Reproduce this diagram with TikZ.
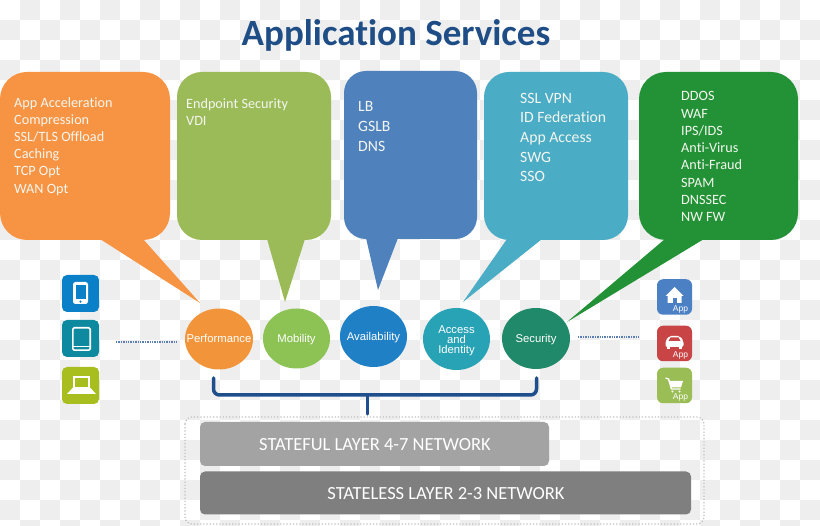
\documentclass[tikz,border=0pt]{standalone}
\usepackage{fontspec}
\setmainfont[Ligatures=NoCommon]{Carlito}
\newfontfamily\circfont{Liberation Sans}
\usetikzlibrary{shapes.geometric}
\definecolor{chk}{HTML}{EEEEEE}
\definecolor{cOrange}{HTML}{F79443}
\definecolor{cGreen}{HTML}{9BBB59}
\definecolor{cBlue}{HTML}{4F81BD}
\definecolor{cCyan}{HTML}{4BACC6}
\definecolor{cDark}{HTML}{239236}
\definecolor{cTxt}{HTML}{F4F6F0}
\definecolor{cTitle}{HTML}{1F4E86}
\definecolor{cBrace}{HTML}{1F4E8C}
\definecolor{cDot}{HTML}{5B7FB5}
\definecolor{oPerf}{HTML}{F2953A}
\definecolor{oMob}{HTML}{8DC255}
\definecolor{oAvail}{HTML}{2080C5}
\definecolor{oAcc}{HTML}{28A2B5}
\definecolor{oSec}{HTML}{20896A}
\definecolor{iBlue}{HTML}{0A80C8}
\definecolor{iTeal}{HTML}{0E8AA0}
\definecolor{iLime}{HTML}{A8BE1E}
\definecolor{aBlue}{HTML}{4C80C4}
\definecolor{aRed}{HTML}{C94545}
\definecolor{aGreen}{HTML}{9BBD55}
\definecolor{barA}{HTML}{A3A3A3}
\definecolor{barB}{HTML}{7F7F7F}
\tikzset{
  x=1pt,y=-1pt,
  bubbletext/.style={anchor=north west,inner sep=0pt,align=left,text=cTxt},
  circlenode/.style={ellipse,minimum width=68pt,minimum height=61pt,inner sep=0pt},
  circletext/.style={inner sep=0pt,text=white,font=\circfont\fontsize{11.3}{10}\selectfont,align=center},
  barnode/.style={rounded corners=5pt,inner sep=0pt},
  bartext/.style={inner sep=0pt,text=white,font=\fontsize{18.5}{20}\selectfont},
  iconbox/.style={rounded corners=5pt,inner sep=0pt,minimum width=37pt,minimum height=37pt},
  appbox/.style={rounded corners=6pt,inner sep=0pt,minimum width=35pt,minimum height=35.5pt},
  apptext/.style={inner sep=0pt,text=white,font=\circfont\fontsize{8.5}{9}\selectfont},
  dotline/.style={cDot,line width=1.1pt,dash pattern=on 1.4pt off 1pt},
}
\begin{document}
\begin{tikzpicture}
\useasboundingbox (0,0) rectangle (820,526);
\fill[white] (0,0) rectangle (820,526);
% checker background
\foreach \i in {0,...,40}{\foreach \j in {0,...,26}{
  \pgfmathparse{int(mod(\i+\j,2))}
  \ifnum\pgfmathresult=1 \fill[chk] (20*\i,20*\j) rectangle ++(20,20);\fi
}}
% title
\node[anchor=base,inner sep=0pt,text=cTitle,font=\bfseries\fontsize{37}{40}\selectfont] (title) at (396,46) {Application Services};
% bubbles
\fill[cOrange,rounded corners=27pt] (0,72) rectangle (170,240);
\fill[cOrange] (100,239) -- (200,303) -- (143,239) -- cycle;
\fill[cGreen,rounded corners=25pt] (177,72) rectangle (331,240);
\fill[cGreen] (267,239) -- (285,302) -- (305,239) -- cycle;
\fill[cBlue,rounded corners=22pt] (344,71) rectangle (477,239);
\fill[cBlue] (366,238) -- (378,290) -- (398,238) -- cycle;
\fill[cCyan,rounded corners=25pt] (484,72) rectangle (628,240);
\fill[cCyan] (507,239) -- (463,302) -- (542,239) -- cycle;
\fill[cDark,rounded corners=27pt] (639,72) rectangle (798,240);
\fill[cDark] (665,239) -- (567,322) -- (704,239) -- cycle;
% bubble text
\node[bubbletext,font=\fontsize{14.2}{17.2}\selectfont] (t1) at (14,97) {App Acceleration\\Compression\\SSL/TLS Offload\\Caching\\TCP Opt\\WAN Opt};
\node[bubbletext,font=\fontsize{14.2}{17.2}\selectfont] (t2) at (186,98) {Endpoint Security\\VDI};
\node[bubbletext,font=\fontsize{15.7}{19.8}\selectfont] (t3) at (358,101.5) {LB\\GSLB\\DNS};
\node[bubbletext,font=\fontsize{15.7}{19.6}\selectfont] (t4) at (520,93) {SSL VPN\\ID Federation\\App Access\\SWG\\SSO};
\node[bubbletext,font=\fontsize{14.2}{17.25}\selectfont] (t5) at (681,91.5) {DDOS\\WAF\\IPS/IDS\\Anti-Virus\\Anti-Fraud\\SPAM\\DNSSEC\\NW FW};
% circles
\node[circlenode,fill=oPerf] (perf) at (219,339) {};
\node[circletext] (perft) at (219,338) {Performance};
\node[circlenode,fill=oMob,minimum width=67pt,minimum height=60pt] (mob) at (296.5,338.5) {};
\node[circletext] (mobt) at (296.5,339.5) {Mobility};
\node[circlenode,fill=oAvail,minimum width=67pt] (avail) at (373.5,336.5) {};
\node[circletext] (availt) at (373.5,338) {Availability};
\node[circlenode,fill=oAcc,minimum width=67pt,minimum height=62pt] (acc) at (456.5,339) {};
\node[circletext] (acct) at (456.5,340.5) {Access\\and\\Identity};
\node[circlenode,fill=oSec] (sec) at (536,338.5) {};
\node[circletext] (sect) at (536,339.5) {Security};
% bracket
\coordinate (bl) at (213.5,378);
\coordinate (br) at (536.5,378);
\coordinate (bt) at (367.5,395);
\coordinate (bs) at (367.5,414);
\draw[cBrace,line width=3.5pt,rounded corners=6pt,line cap=round] (bl) -- (bl|-bt) -- (br|-bt) -- (br);
\draw[cBrace,line width=3.5pt,line cap=round] (bt) -- (bs);
% network layers
\draw[black!25,line width=1.2pt,dotted,rounded corners=7pt] (185,417) rectangle (704,524);
\node[barnode,fill=barA,minimum width=349pt,minimum height=44pt] (s1) at (374.5,444) {};
\node[bartext] (s1t) at (375,444.5) {STATEFUL LAYER 4-7 NETWORK};
\node[barnode,fill=barB,minimum width=491pt,minimum height=43pt] (s2) at (445.5,493) {};
\node[bartext] (s2t) at (446,493.5) {STATELESS LAYER 2-3 NETWORK};
% left icons
\node[iconbox,fill=iBlue] (i1) at (80.5,293.5) {};
\node[iconbox,fill=iTeal] (i2) at (80.5,338.5) {};
\node[iconbox,fill=iLime] (i3) at (80.5,385.5) {};
\fill[white,rounded corners=2.5pt] (73,282) rectangle (88,304);
\fill[iBlue] (75.5,285) rectangle (85.5,299.5);
\fill[iBlue] (80.5,301.7) circle (1.2pt);
\draw[white,line width=1.6pt,rounded corners=1.5pt] (72.8,327.8) rectangle (90.2,350.2);
\draw[white,line width=1pt] (73,347) -- (90,347);
\fill[white] (73,376.5) rectangle (90,388);
\fill[iLime] (75,378.5) rectangle (88,387);
\fill[white] (73,387.5) -- (90,387.5) -- (96,394) -- (67,394) -- cycle;
% right icons
\node[appbox,fill=aBlue] (a1) at (674.5,297) {};
\node[appbox,fill=aRed] (a2) at (674.5,343.5) {};
\node[appbox,fill=aGreen] (a3) at (674.5,385.5) {};
\fill[white] (674.5,287) -- (683.5,296) -- (681.5,296) -- (681.5,303) -- (667.5,303) -- (667.5,296) -- (665.5,296) -- cycle;
\fill[aBlue] (673,298) rectangle (677,303);
\node[apptext] (a1t) at (680.5,309) {App};
\fill[white,rounded corners=2pt] (665.5,341) -- (669,336) -- (680,336) -- (683.5,341) -- (683.5,347) -- (665.5,347) -- cycle;
\fill[aRed] (668.5,341) -- (670.5,337.5) -- (678.5,337.5) -- (680.5,341) -- cycle;
\fill[white] (667,347) rectangle (670,349.5);
\fill[white] (679,347) rectangle (682,349.5);
\node[apptext] (a2t) at (680.5,355) {App};
\draw[white,line width=1.4pt] (665.5,378) -- (668.5,379) -- (671.5,389) -- (680.5,389);
\fill[white] (669,381) -- (683,381) -- (681,387.5) -- (671,387.5) -- cycle;
\fill[white] (672.5,391.5) circle (1.2pt);
\fill[white] (679.5,391.5) circle (1.2pt);
\node[apptext] (a3t) at (680.5,397.5) {App};
% dotted leaders
\coordinate (dl1) at (116,342);
\coordinate (dl2) at (177,342);
\coordinate (dr1) at (578,337);
\coordinate (dr2) at (639,337);
\draw[dotline] (dl1) -- (dl2);
\draw[dotline] (dr1) -- (dr2);
\end{tikzpicture}
\end{document}
